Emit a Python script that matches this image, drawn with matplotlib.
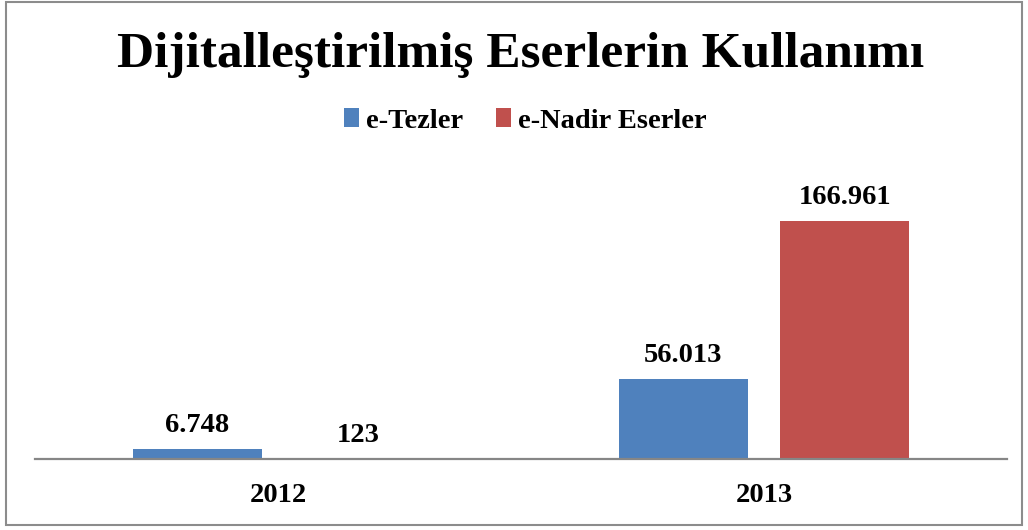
import matplotlib
matplotlib.use("Agg")
import matplotlib.pyplot as plt
from matplotlib.patches import Rectangle
import numpy as np

# ---- data ----
categories = ["2012", "2013"]
series_names = ["e-Tezler", "e-Nadir Eserler"]
e_tezler = [6748, 56013]
e_nadir = [123, 166961]
value_labels_tezler = ["6.748", "56.013"]
value_labels_nadir = ["123", "166.961"]
title = "Dijitalleştirilmiş Eserlerin Kullanımı"

colors = ["#4F81BD", "#C0504D"]
FONT = "Liberation Serif"
FS = 20.5

W, H = 1028, 530
fig = plt.figure(figsize=(W / 100, H / 100), dpi=100)

# axes placement in pixels
left_px, right_px, bottom_px, top_px = 35, 1007, 459, 160
ax = fig.add_axes([left_px / W, 1 - bottom_px / H,
                   (right_px - left_px) / W, (bottom_px - top_px) / H])

x = np.arange(len(categories))
width = 0.266
offset = 0.166
b1 = ax.bar(x - offset, e_tezler, width, color=colors[0], label=series_names[0])
b2 = ax.bar(x + offset, e_nadir, width, color=colors[1], label=series_names[1])

ymax = max(e_nadir) * (bottom_px - top_px) / (bottom_px - 221)
ax.set_ylim(0, ymax)
ax.set_xlim(-0.5, len(categories) - 0.5)

for bars, labels in ((b1, value_labels_tezler), (b2, value_labels_nadir)):
    for rect, lab in zip(bars, labels):
        ax.annotate(lab, xy=(rect.get_x() + rect.get_width() / 2, rect.get_height()),
                    xytext=(0, 17), textcoords="offset pixels",
                    ha="center", va="baseline", fontsize=FS,
                    fontweight="bold", family=FONT)

for xi, cat in zip(x, categories):
    ax.annotate(cat, xy=(xi, 0), xytext=(0, -43), textcoords="offset pixels",
                ha="center", va="baseline", fontsize=FS, fontweight="bold",
                family=FONT, annotation_clip=False)

for s in ("top", "right", "left"):
    ax.spines[s].set_visible(False)
ax.spines["bottom"].set_color("#868686")
ax.spines["bottom"].set_linewidth(1.6)
ax.set_xticks([])
ax.set_yticks([])

# title
fig.text(521 / W, 1 - 67 / H, title, ha="center", va="baseline",
         fontsize=37, fontweight="bold", family=FONT)

# legend
leg = fig.legend(handles=[b1, b2], labels=series_names, ncol=2,
                 loc="center", bbox_to_anchor=(525 / W, 1 - 121 / H),
                 frameon=False, prop={"family": FONT, "weight": "bold", "size": FS},
                 handlelength=0.55, handleheight=0.6, handletextpad=0.22,
                 columnspacing=1.15, borderpad=0, borderaxespad=0)

# outer border
fig.patches.append(Rectangle((6 / W, 1 - 525 / H), (1022 - 6) / W, (525 - 2) / H,
                             transform=fig.transFigure, fill=False,
                             edgecolor="#8c8c8c", linewidth=1.5))

fig.savefig("out.png", dpi=100, facecolor="white")
